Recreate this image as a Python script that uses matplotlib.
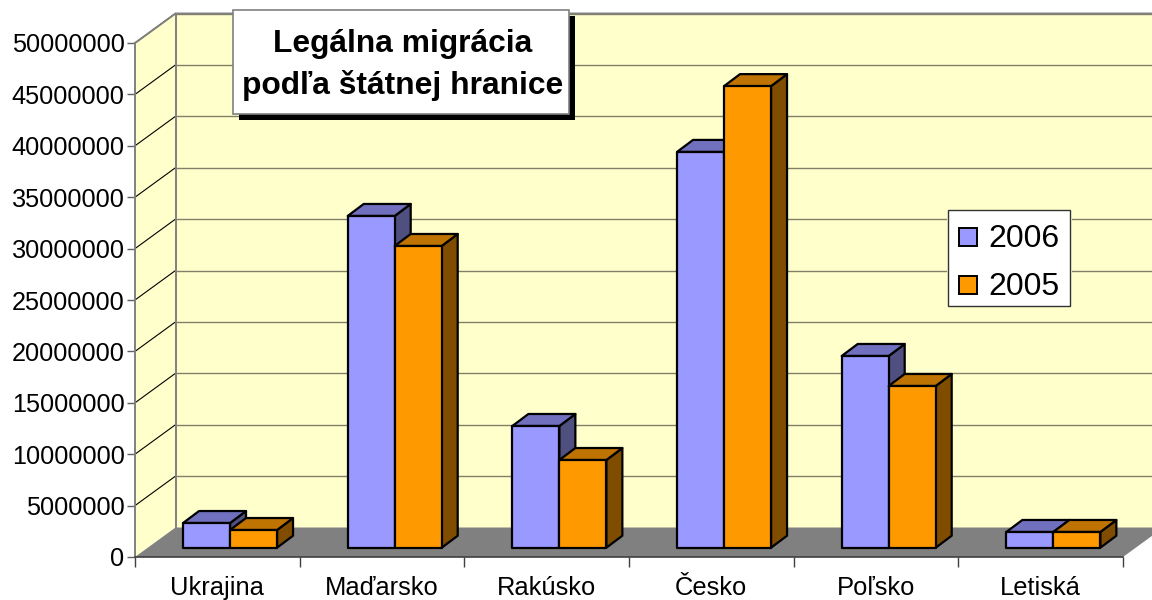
import matplotlib
matplotlib.use("Agg")
import matplotlib.pyplot as plt
from matplotlib.patches import Polygon, Rectangle

plt.rcParams['font.family'] = ['Liberation Sans', 'DejaVu Sans']

categories = ['Ukrajina', 'Maďarsko', 'Rakúsko', 'Česko', 'Poľsko', 'Letiská']
values_2006 = [2400000, 32270000, 11840000, 38500000, 18650000, 1530000]
values_2005 = [1720000, 29350000, 8530000, 44900000, 15730000, 1530000]
yticks = list(range(0, 50000001, 5000000))
title = 'Legálna migrácia\npodľa štátnej hranice'
series = ['2006', '2005']

W, H = 1152, 600
LEFT, RIGHT, BOTTOM, TOP = 135, 1123, 557, 43
PXX = (RIGHT - LEFT) / len(categories)
PXY = (BOTTOM - TOP) / yticks[-1]


def dx(px):
  return px / PXX


def dy(px):
  return px / PXY


fig = plt.figure(figsize=(W / 100, H / 100), dpi=100)
ax = fig.add_axes([LEFT / W, 1 - BOTTOM / H, (RIGHT - LEFT) / W, (BOTTOM - TOP) / H])
ax.set_xlim(0, len(categories))
ax.set_ylim(0, yticks[-1])
ax.patch.set_visible(False)

# walls and floor
WX, WY = dx(40.5), dy(29.5)
far = len(categories) + WX + dx(20)
top = yticks[-1]
ax.add_patch(Polygon([(WX, WY), (far, WY), (far, top + WY), (WX, top + WY)], fc='#FFFFCC', ec='none', clip_on=False, zorder=1))
ax.add_patch(Polygon([(0, 0), (WX, WY), (WX, top + WY), (0, top)], fc='#FFFFCC', ec='none', clip_on=False, zorder=1))
ax.add_patch(Polygon([(0, 0), (len(categories), 0), (len(categories) + WX, WY), (WX, WY)], fc='#808080', ec='none', clip_on=False, zorder=1))
for t in yticks[1:]:
  ax.plot([0, WX], [t, t + WY], color='black', lw=0.8, clip_on=False, zorder=2)
  ax.plot([WX, far], [t + WY, t + WY], color='#808066', lw=1.0, clip_on=False, zorder=2)
ax.plot([0, WX, far], [top, top + WY, top + WY], color='#808080', lw=1.4, clip_on=False, zorder=2)
ax.plot([WX, WX], [WY, top + WY], color='#808080', lw=1.4, clip_on=False, zorder=2)


def bar3d(x0, w, val, front, topc, side):
  bx, by = dx(12.7), dy(9.3)
  ox, oy = dx(16), dy(12)
  x0 = x0 + bx - w / 2
  x1 = x0 + w
  y0, y1 = by, by + val
  style = dict(ec='black', lw=1.6, clip_on=False, zorder=3, joinstyle='round')
  ax.add_patch(Polygon([(x1, y0), (x1 + ox, y0 + oy), (x1 + ox, y1 + oy), (x1, y1)], fc=side, **style))
  ax.add_patch(Polygon([(x0, y1), (x0 + ox, y1 + oy), (x1 + ox, y1 + oy), (x1, y1)], fc=topc, **style))
  ax.add_patch(Rectangle((x0, y0), w, val, fc=front, **style))


bw = dx(47)
for i in range(len(categories)):
  c = i + 0.5
  bar3d(c - dx(23.5), bw, values_2006[i], '#9999FF', '#7070BF', '#4F4F80')
  bar3d(c + dx(23.5), bw, values_2005[i], '#FF9900', '#BF7300', '#804D00')

# axes
for s in ['top', 'right']:
  ax.spines[s].set_visible(False)
ax.spines['left'].set_color('#808080')
ax.spines['left'].set_linewidth(1.4)
ax.spines['bottom'].set_color('#404040')
ax.spines['bottom'].set_linewidth(1.2)
ax.spines['left'].set_zorder(2)
ax.set_yticks(yticks)
ax.set_yticklabels([str(t) for t in yticks], fontsize=18.2)
ax.tick_params(axis='y', length=6, width=1.0, color='#606060', pad=1.5)
ax.set_xticks(range(len(categories) + 1))
ax.set_xticklabels([])
ax.tick_params(axis='x', which='major', length=7, width=1.0, color='#404040')
ax.set_xticks([i + 0.5 for i in range(len(categories))], minor=True)
ax.set_xticklabels(categories, minor=True, fontsize=18.4)
ax.tick_params(axis='x', which='minor', length=0, pad=13.5)

# title box with shadow
fig.add_artist(Rectangle((239 / W, 1 - 120 / H), 336 / W, 104 / H, transform=fig.transFigure, fc='black', ec='none', zorder=5))
fig.add_artist(Rectangle((233 / W, 1 - 114 / H), 336 / W, 104 / H, transform=fig.transFigure, fc='white', ec='#808080', lw=1.2, zorder=6))
fig.text(403 / W, 1 - 65 / H, title, ha='center', va='center', fontsize=22.9, fontweight='bold', linespacing=1.48, zorder=7)

# legend box
fig.add_artist(Rectangle((947 / W, 1 - 306 / H), 125 / W, 96 / H, transform=fig.transFigure, fc='#FFFFCC', ec='none', zorder=5))
fig.add_artist(Rectangle((947.5 / W, 1 - 306 / H), 122 / W, 96 / H, transform=fig.transFigure, fc='white', ec='#333333', lw=1.0, zorder=6))
colors = ['#9999FF', '#FF9900']
for k in range(len(series)):
  yc = 237 + 48 * k
  fig.add_artist(Rectangle((959 / W, 1 - (yc + 9) / H), 18 / W, 18 / H, transform=fig.transFigure, fc=colors[k], ec='black', lw=1.4, zorder=7))
  fig.text(988 / W, 1 - (yc + 2) / H, series[k], ha='left', va='center', fontsize=23, zorder=7)

fig.savefig('out.png', dpi=100)
